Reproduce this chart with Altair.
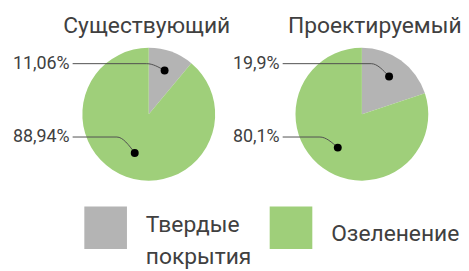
import math
import altair as alt
import pandas as pd

# ---- data ----
pies = ["Существующий", "Проектируемый"]
categories = ["Твердые покрытия", "Озеленение"]
legend_labels = ["Твердые\nпокрытия", "Озеленение"]
values_existing = [11.06, 88.94]
values_projected = [19.9, 80.1]
labels_existing = ["11,06%", "88,94%"]
labels_projected = ["19,9%", "80,1%"]
colors = ["#b4b4b4", "#9fcf7a"]

# ---- layout constants (page pixel space) ----
W, H = 457, 262
CX = [150, 365]
CY = 114
R = 67
TITLE_X = [148, 378]
TITLE_Y = 32
LABEL_X = [13, 235]
LABEL_ROW_Y = [63, 137]
DOT_R = [0.7, 0.62]
LEG_SQ_X = [106.5, 293.5]
LEG_Y = 228.5
LEG_SIDE = 43
LEG_GAP = 19
FONT = "Roboto"
TXT = "#404040"

xs = alt.Scale(domain=[8, 8 + W], nice=False, zero=False)
ys = alt.Scale(domain=[8, 8 + H], reverse=True, nice=False, zero=False)


def text_w(s, fs=18):
    em = {",": 0.2, "%": 0.73}
    return sum(em.get(c, 0.562) for c in s) * fs


arc_rows, lab_rows, dot_rows, line_rows, title_rows = [], [], [], [], []
for i, (pie, vals, labs) in enumerate(
    [(pies[0], values_existing, labels_existing), (pies[1], values_projected, labels_projected)]
):
    title_rows.append({"t": pie, "x": TITLE_X[i], "y": TITLE_Y})
    cum = 0.0
    for j, (cat, v, lab) in enumerate(zip(categories, vals, labs)):
        arc_rows.append({"pie": pie, "category": cat, "start": cum, "end": cum + v,
                         "cx": CX[i], "cy": CY})
        mid = (cum + v / 2) / 100 * 2 * math.pi
        dx = CX[i] + DOT_R[j] * R * math.sin(mid)
        dy = CY - DOT_R[j] * R * math.cos(mid)
        cum += v
        ly = LABEL_ROW_Y[j]
        lab_rows.append({"label": lab, "x": LABEL_X[i], "y": ly})
        dot_rows.append({"x": dx, "y": dy})
        lid = f"{i}-{j}"
        sx = LABEL_X[i] + text_w(lab) + 3
        for k, (px, py) in enumerate([(sx, ly), (dx - 18, ly), (dx, dy)]):
            line_rows.append({"id": lid, "k": k, "x": px, "y": py})

arcs = pd.DataFrame(arc_rows)
labels_df = pd.DataFrame(lab_rows)
dots_df = pd.DataFrame(dot_rows)
lines_df = pd.DataFrame(line_rows)
titles_df = pd.DataFrame(title_rows)
nlines = [t.count("\n") + 1 for t in legend_labels]
legend_df = pd.DataFrame({
    "category": categories,
    "text": legend_labels,
    "x": LEG_SQ_X,
    "tx": [x + LEG_SIDE / 2 + LEG_GAP for x in LEG_SQ_X],
    "y": [LEG_Y] * 2,
    "ty": [LEG_Y + 13.5 - 9 * (n - 1) for n in nlines],
})

color = alt.Color("category:N", scale=alt.Scale(domain=categories, range=colors), legend=None)

pie_layer = alt.Chart(arcs).mark_arc(radius=R).encode(
    x=alt.X("cx:Q", scale=xs, axis=None),
    y=alt.Y("cy:Q", scale=ys, axis=None),
    theta=alt.Theta("start:Q", scale=alt.Scale(domain=[0, 100], range=[0, 2 * math.pi]), stack=False),
    theta2="end:Q",
    color=color,
)

line_layer = alt.Chart(lines_df).mark_line(color="#505050", strokeWidth=1, interpolate="monotone").encode(
    x=alt.X("x:Q", scale=xs, axis=None),
    y=alt.Y("y:Q", scale=ys, axis=None),
    detail="id:N",
    order="k:Q",
)

dot_layer = alt.Chart(dots_df).mark_circle(size=64, color="black", opacity=1).encode(
    x=alt.X("x:Q", scale=xs, axis=None),
    y=alt.Y("y:Q", scale=ys, axis=None),
)

label_layer = alt.Chart(labels_df).mark_text(
    align="left", baseline="middle", fontSize=18, font=FONT, color=TXT
).encode(
    x=alt.X("x:Q", scale=xs, axis=None),
    y=alt.Y("y:Q", scale=ys, axis=None),
    text="label:N",
)

title_layer = alt.Chart(titles_df).mark_text(
    align="center", baseline="alphabetic", fontSize=23, font=FONT, color=TXT
).encode(
    x=alt.X("x:Q", scale=xs, axis=None),
    y=alt.Y("y:Q", scale=ys, axis=None),
    text="t:N",
)

leg_sq = alt.Chart(legend_df).mark_square(size=LEG_SIDE * LEG_SIDE, opacity=1).encode(
    x=alt.X("x:Q", scale=xs, axis=None),
    y=alt.Y("y:Q", scale=ys, axis=None),
    color=color,
)

leg_txt = alt.Chart(legend_df).mark_text(
    align="left", baseline="alphabetic", fontSize=23, font=FONT, color=TXT,
    lineBreak="\n", lineHeight=32
).encode(
    x=alt.X("tx:Q", scale=xs, axis=None),
    y=alt.Y("ty:Q", scale=ys, axis=None),
    text="text:N",
)

chart = alt.layer(
    pie_layer, line_layer, dot_layer, label_layer, title_layer, leg_sq, leg_txt
).properties(
    width=W, height=H, autosize=alt.AutoSizeParams(type="none"), padding=0
).configure_view(stroke=None)

chart.save("out.html", embed_options={"renderer": "svg", "actions": False})
